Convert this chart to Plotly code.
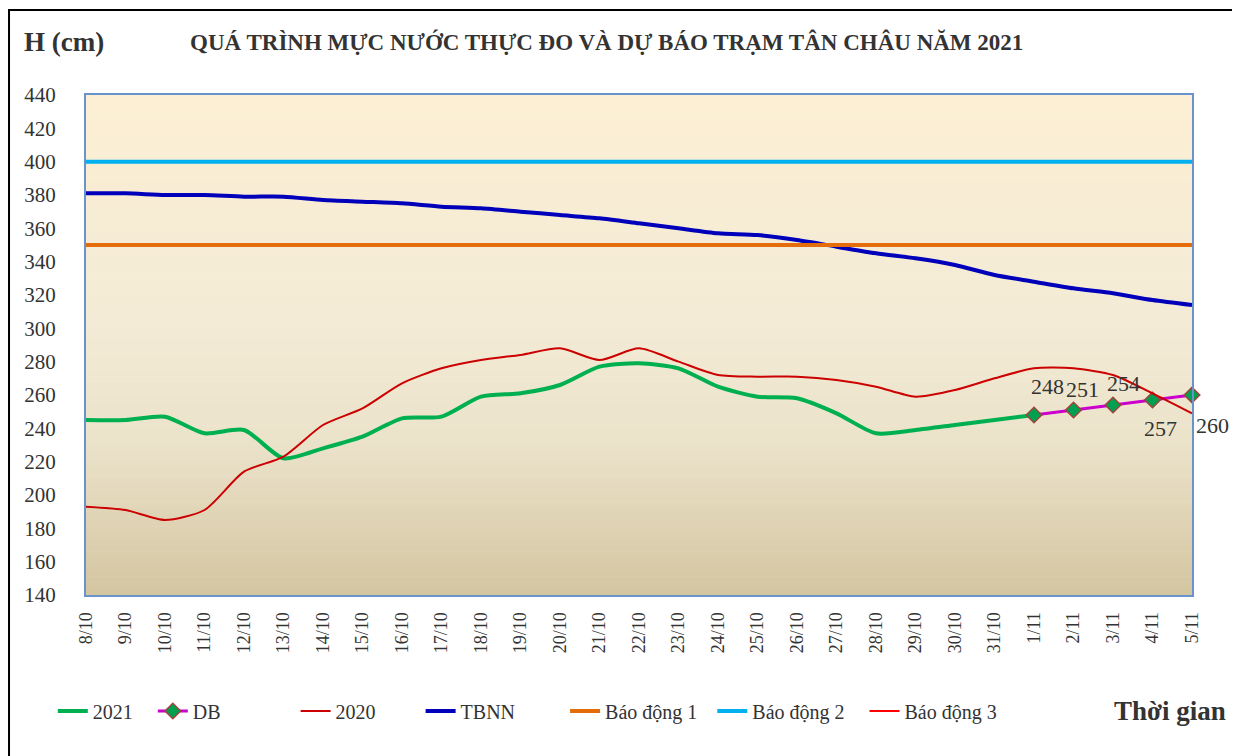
import plotly.graph_objects as go

categories = ["8/10", "9/10", "10/10", "11/10", "12/10", "13/10", "14/10", "15/10",
              "16/10", "17/10", "18/10", "19/10", "20/10", "21/10", "22/10", "23/10",
              "24/10", "25/10", "26/10", "27/10", "28/10", "29/10", "30/10", "31/10",
              "1/11", "2/11", "3/11", "4/11", "5/11"]

h2021 = [245, 245, 247, 237, 239, 222, 228, 235, 246, 247, 259, 261, 266, 277, 279,
         276, 265, 259, 258, 249, 237, 239, 242, 245, 248, None, None, None, None]

db = [None] * 24 + [248, 251, 254, 257, 260]
db_labels = ["248", "251", "254", "257", "260"]

h2020 = [193, 191, 185, 191, 214, 223, 242, 252, 267, 276, 281, 284, 288, 281, 288,
         280, 272, 271, 271, 269, 265, 259, 263, 270, 276, 276, 272, 261, 249]

tbnn = [381, 381, 380, 380, 379, 379, 377, 376, 375, 373, 372, 370, 368, 366, 363,
        360, 357, 356, 353, 349, 345, 342, 338, 332, 328, 324, 321, 317, 314]

bd1 = [350] * 29
bd2 = [400] * 29
bd3 = [450] * 29

y_ticks = list(range(140, 441, 20))

FONT = "Liberation Serif"
TXT = "#333333"
NB = "\u00a0"

fig = go.Figure()

fig.add_trace(go.Scatter(x=categories, y=h2021, name="2021" + NB * 3, mode="lines",
                         line=dict(color="#00B050", width=4, shape="spline", smoothing=0.7)))
fig.add_trace(go.Scatter(x=categories, y=db, name="DB" + NB * 14, mode="lines+markers",
                         line=dict(color="#CC00CC", width=3), cliponaxis=False,
                         marker=dict(symbol="diamond", size=12, color="#00A050",
                                     line=dict(color="#A0443C", width=1.5))))
fig.add_trace(go.Scatter(x=categories, y=h2020, name="2020" + NB * 8, mode="lines",
                         line=dict(color="#CC0000", width=2, shape="spline", smoothing=0.7)))
fig.add_trace(go.Scatter(x=categories, y=tbnn, name="TBNN" + NB * 9, mode="lines",
                         line=dict(color="#0000BB", width=4, shape="spline", smoothing=0.7)))
fig.add_trace(go.Scatter(x=categories, y=bd1, name="Báo động 1" + NB * 2, mode="lines",
                         line=dict(color="#E46C0A", width=4)))
fig.add_trace(go.Scatter(x=categories, y=bd2, name="Báo động 2" + NB * 3, mode="lines",
                         line=dict(color="#00B0F0", width=4)))
fig.add_trace(go.Scatter(x=categories, y=bd3, name="Báo động 3", mode="lines",
                         line=dict(color="#FF0000", width=2)))

# vertical gradient background of the plot area
def lerp(c1, c2, t):
    return tuple(round(a + (b - a) * t) for a, b in zip(c1, c2))

stops = [(0.0, (252, 239, 212)), (0.45, (243, 235, 213)), (0.7, (235, 226, 202)),
         (1.0, (212, 197, 160))]
shapes = []
n = 80
for i in range(n):
    f = (i + 0.5) / n  # 0 = top, 1 = bottom
    for (p0, c0), (p1, c1) in zip(stops[:-1], stops[1:]):
        if p0 <= f <= p1:
            col = lerp(c0, c1, (f - p0) / (p1 - p0))
            break
    shapes.append(dict(type="rect", xref="x domain", yref="y domain",
                       x0=0, x1=1, y0=1 - (i + 1) / n - 0.001, y1=1 - i / n,
                       fillcolor="rgb(%d,%d,%d)" % col, line=dict(width=0),
                       layer="below"))

# outer black frame
shapes.append(dict(type="rect", xref="paper", yref="paper",
                   x0=-0.0696, x1=1.046, y0=-0.33, y1=1.17,
                   line=dict(color="black", width=2), fillcolor="rgba(0,0,0,0)",
                   layer="above"))

# forecast value labels (positioned from the DB data)
label_shift = [(13, 29), (9, 21), (10, 22), (8, -28), (20, -30)]
annotations = []
for k, lab in enumerate(db_labels):
    idx = 24 + k
    dx, dy = label_shift[k]
    annotations.append(dict(text=lab, x=categories[idx], y=db[idx], xref="x", yref="y",
                            xshift=dx, yshift=dy, showarrow=False,
                            xanchor="center", yanchor="middle",
                            font=dict(family=FONT, size=22, color=TXT)))

annotations += [
    dict(text="<b>QUÁ TRÌNH MỰC NƯỚC THỰC ĐO VÀ DỰ BÁO TRẠM TÂN CHÂU NĂM 2021</b>",
         xref="paper", yref="paper", x=0.471, y=1.106, xanchor="center",
         yanchor="middle", showarrow=False,
         font=dict(family=FONT, size=23, color=TXT)),
    dict(text="<b>H (cm)</b>", xref="paper", yref="paper", x=-0.058, y=1.106,
         xanchor="left", yanchor="middle", showarrow=False,
         font=dict(family=FONT, size=27, color=TXT)),
    dict(text="<b>Thời gian</b>", xref="paper", yref="paper", x=0.928, y=-0.232,
         xanchor="left", yanchor="middle", showarrow=False,
         font=dict(family=FONT, size=27, color=TXT)),
]

fig.update_layout(
    width=1232, height=748,
    margin=dict(l=78, r=48, t=87, b=161),
    paper_bgcolor="white",
    plot_bgcolor="rgba(0,0,0,0)",
    font=dict(family=FONT, color=TXT),
    showlegend=True,
    legend=dict(orientation="h", x=-0.030, xanchor="left", y=-0.232, yanchor="middle",
                font=dict(family=FONT, size=20, color=TXT),
                bgcolor="rgba(0,0,0,0)", tracegroupgap=0),
    shapes=shapes,
    annotations=annotations,
)

fig.update_xaxes(type="category", categoryorder="array", categoryarray=categories,
                 range=[0, len(categories) - 1], tickangle=-90,
                 tickfont=dict(family=FONT, size=18, color=TXT),
                 showgrid=False, zeroline=False, showline=True,
                 linecolor="#6A93CC", linewidth=2, mirror=True,
                 ticks="outside", ticklen=8, tickcolor="rgba(0,0,0,0)")
fig.update_yaxes(range=[140, 440], tickvals=y_ticks,
                 tickfont=dict(family=FONT, size=21, color=TXT),
                 showgrid=False, zeroline=False, showline=True,
                 linecolor="#6A93CC", linewidth=2, mirror=True,
                 ticks="outside", ticklen=24, tickcolor="rgba(0,0,0,0)")

fig.write_html("out.html")
